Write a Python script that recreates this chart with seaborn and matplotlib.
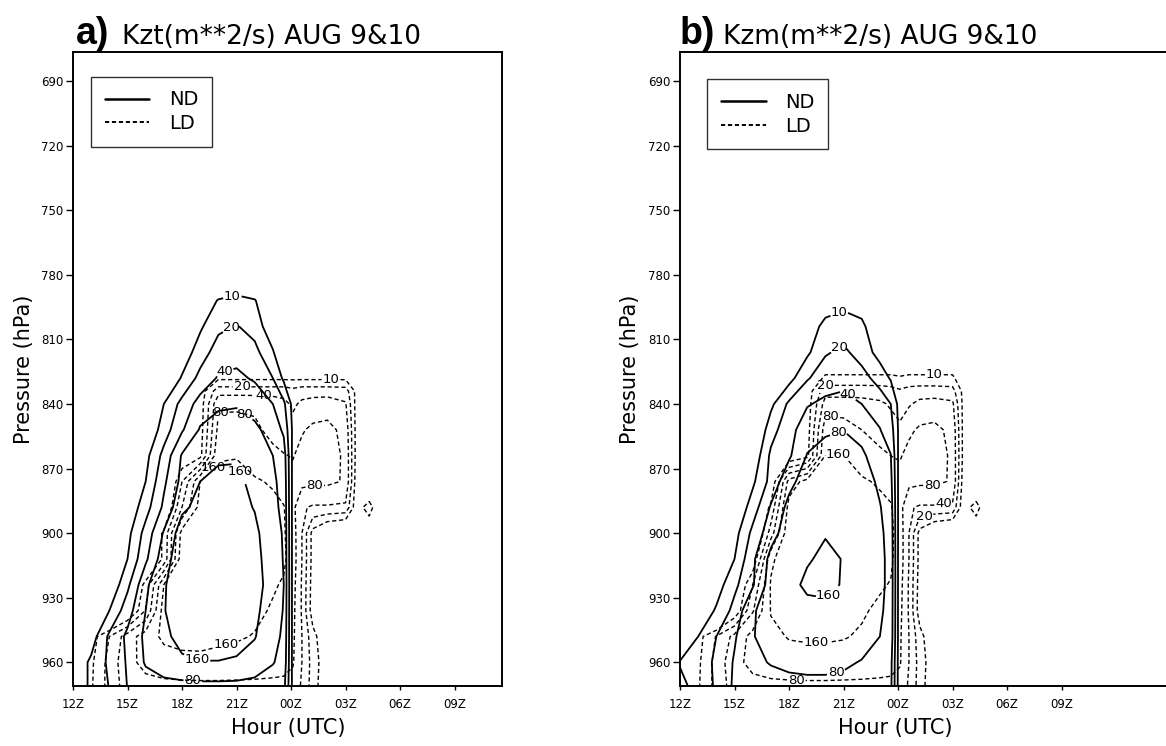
import numpy as np
import matplotlib
matplotlib.use("Agg")
import matplotlib.pyplot as plt
import seaborn as sns
from matplotlib.lines import Line2D

# ------------------------------------------------------------------
#  Data: Kz (m**2/s) on a coarse time/pressure grid
#  hours are counted from 12Z, pressure in hPa
# ------------------------------------------------------------------
LEVELS = [10, 20, 40, 80, 160]

HOURS_ND = [0, 1, 2, 3, 4, 5, 6, 7, 8, 9, 10, 11, 11.6, 12.1]
PRES_ND = [780, 792, 804, 816, 828, 840, 852, 864, 876, 888, 900, 912,
           924, 936, 948, 960, 975]

HOURS_LD = [0, 1, 2, 3, 4, 5, 6, 7, 8, 9, 10, 11, 11.6, 12.1, 12.6, 13.2,
            14, 15, 15.6, 16.3, 17]
PRES_LD = [816, 828, 834, 840, 852, 864, 876, 888, 900, 912, 924, 936,
           948, 960, 975]

# a) Kzt, ND run
KZT_ND = [
    [1, 1, 1, 1, 1, 1, 2, 3, 4, 5, 4, 3, 2, 1],
    [1, 1, 1, 1, 1.5, 2, 3, 6, 10.5, 12, 10.5, 5, 3, 1],
    [1, 1, 1, 1.5, 2, 3, 5, 9, 17, 21, 15, 6, 3, 1],
    [1, 1, 1.5, 2, 3, 4.5, 6.6, 14, 28, 32, 25, 10.7, 5, 1.5],
    [1, 1, 1.5, 2, 3, 5, 10.7, 25, 43, 46, 37, 20, 8.7, 2.5],
    [1, 1.5, 2, 3, 5, 10, 25, 53, 72, 75, 61, 40, 23, 8],
    [1, 1.5, 2, 3, 5, 14, 37, 86, 106, 113, 92, 61, 35, 8.7],
    [1, 1.5, 2.5, 4.4, 8, 25, 86, 121, 144, 150, 121, 80, 57, 8.2],
    [1, 1.5, 2.5, 5.7, 10, 35, 98, 160, 190, 184, 135, 89, 65, 8.1],
    [1, 2, 3, 5.7, 15, 46, 139, 197, 211, 197, 155, 92, 70, 8],
    [1, 2, 4, 8, 26, 86, 226, 243, 243, 226, 184, 106, 75, 8],
    [1, 2, 4.4, 10, 35, 121, 243, 260, 260, 243, 197, 113, 77, 8],
    [1, 2.5, 5.4, 17, 70, 150, 243, 260, 260, 243, 204, 121, 80, 8],
    [2.5, 4.4, 10, 30, 80, 155, 226, 243, 243, 226, 184, 113, 77, 8],
    [3.5, 7, 23, 46, 92, 139, 197, 211, 211, 197, 166, 98, 72, 8],
    [5.7, 11.5, 23, 43, 86, 121, 144, 157, 157, 150, 121, 83, 65, 8],
    [5.7, 11.5, 20, 40, 50, 50, 50, 50, 50, 50, 50, 50, 46, 8.4],
]

# a) Kzt, LD run
KZT_LD = [
    [1, 1, 1, 1, 1, 1, 1, 2, 3, 3, 3, 3, 3, 3, 3, 3, 3, 3, 2, 1, 1],
    [1, 1, 1, 1, 1, 1.5, 2, 4, 8.7, 8.7, 8.7, 8.7, 8.7, 8.7, 8.7, 8.7, 8.7, 8.7, 5, 1, 1],
    [1, 1, 1, 1, 1.5, 2, 3, 6.6, 30, 30, 30, 30, 30, 25, 30, 30, 30, 28, 8, 2, 1],
    [1, 1, 1, 1, 1.5, 2, 3, 6.6, 72, 72, 70, 61, 49, 35, 46, 53, 57, 43, 7.6, 2, 1],
    [1, 1, 1, 1, 1.5, 2, 3, 7, 98, 102, 92, 65, 57, 53, 75, 92, 98, 65, 7.6, 2, 1],
    [1, 1, 1, 1, 1.5, 2, 5, 8, 150, 155, 121, 95, 83, 77, 98, 109, 106, 72, 7.6, 2, 1],
    [1, 1, 1, 1.5, 2, 2.5, 20, 160, 197, 197, 171, 150, 113, 98, 98, 92, 92, 75, 7, 2, 1],
    [1, 1, 1, 1.5, 2, 3.5, 40, 211, 226, 226, 211, 184, 166, 98, 43, 37, 37, 35, 6, 16, 3],
    [1, 1, 1, 1.5, 3.5, 11.5, 211, 243, 243, 243, 226, 197, 171, 113, 40, 7.6, 3.5, 2.5, 1.8, 4, 1],
    [1, 1, 1, 1.5, 2.5, 12, 260, 260, 260, 260, 234, 204, 178, 117, 40, 7.6, 3, 2, 1.5, 1, 1],
    [1, 1, 1, 2.5, 13, 160, 243, 260, 260, 243, 211, 171, 150, 106, 37, 7, 3, 2, 1.5, 1, 1],
    [1, 1, 1, 3.5, 21, 226, 243, 243, 226, 197, 184, 150, 130, 98, 37, 6.6, 3, 2, 1.5, 1, 1],
    [1, 7, 20, 57, 113, 184, 211, 211, 184, 171, 155, 130, 121, 92, 40, 13, 5, 2, 1.5, 1, 1],
    [3.5, 8.7, 26, 65, 98, 117, 126, 130, 130, 126, 121, 113, 106, 86, 40, 15, 5.7, 2, 1.5, 1, 1],
    [4.4, 9.3, 26, 53, 55, 55, 55, 55, 55, 55, 55, 55, 55, 52, 37, 14, 5, 2, 1.5, 1, 1],
]

# b) Kzm, ND run
KZM_ND = [
    [1, 1, 1, 1, 1, 1, 2, 3, 4, 5, 4, 3, 2, 1],
    [1, 1, 1, 1, 1.5, 2, 3, 4.5, 7, 8, 6.5, 4, 2.5, 1],
    [1, 1, 1, 1, 1.5, 2, 3, 7, 12, 14, 12, 5, 2.5, 1],
    [1, 1, 1, 1, 1.5, 2.5, 4, 8.7, 18.7, 23, 15, 7.6, 3.5, 1.5],
    [1, 1, 1, 1.5, 2, 3.5, 7.6, 18.7, 29, 32, 26, 15, 9.3, 2.5],
    [1, 1, 1.5, 2, 4.4, 8.4, 23, 38, 46, 50, 40, 30, 20, 7.4],
    [1, 1, 1.5, 2, 3.8, 15, 32, 57, 72, 79, 65, 41, 28, 7.7],
    [1, 1, 1.5, 3.5, 5.7, 23, 36, 83, 106, 109, 89, 57, 41, 7],
    [1, 1, 1.5, 4.4, 8.7, 25, 65, 113, 135, 139, 113, 70, 49, 6.7],
    [1, 1, 1.5, 5, 14, 43, 98, 139, 155, 155, 130, 83, 57, 6.5],
    [1, 1.5, 3.5, 7.6, 24, 61, 117, 144, 157, 155, 135, 92, 61, 6.4],
    [1, 1.5, 4.7, 10, 35, 98, 135, 155, 171, 158, 139, 95, 65, 6.2],
    [1, 3.5, 7, 17, 37, 113, 144, 171, 178, 155, 139, 95, 65, 6.2],
    [1, 5.4, 11, 25, 75, 106, 130, 144, 144, 135, 121, 89, 63, 6.2],
    [3.5, 10, 20, 37, 77, 106, 121, 130, 130, 126, 109, 80, 61, 6.2],
    [10.7, 15, 22, 43, 70, 83, 92, 95, 95, 89, 77, 61, 49, 6.2],
    [7, 12.3, 22, 46, 53, 57, 59, 61, 61, 59, 57, 53, 46, 6.2],
]

# b) Kzm, LD run
KZM_LD = [
    [1, 1, 1, 1, 1, 1, 1, 2, 3, 3, 3, 3, 3, 3, 3, 3, 3, 3, 2, 1, 1],
    [1, 1, 1, 1, 1, 1.5, 2, 4, 12, 12, 12, 12, 12, 11, 12, 12, 12, 12, 5, 1, 1],
    [1, 1, 1, 1, 1.5, 2, 3, 6.6, 30, 30, 30, 29, 26, 22, 26, 28, 28, 26, 8, 2, 1],
    [1, 1, 1, 1, 1.5, 2, 3, 6.6, 55, 55, 52, 45, 37, 30, 37, 49, 53, 46, 8, 2, 1],
    [1, 1, 1, 1, 1.5, 2, 3, 7, 120, 110, 80, 65, 53, 46, 70, 89, 95, 67, 8, 2, 1],
    [1, 1, 1, 1, 1.5, 2, 5, 8, 163, 162, 106, 89, 80, 75, 98, 109, 106, 72, 8, 2, 1],
    [1, 1, 1, 1.5, 2, 5, 106, 211, 226, 211, 178, 144, 121, 102, 98, 92, 92, 75, 7, 2, 1],
    [1, 1, 1, 1.5, 3.5, 11.5, 211, 243, 251, 243, 226, 197, 171, 106, 43, 37, 37, 35, 6, 16, 3],
    [1, 1, 1, 1.5, 2.5, 28, 279, 279, 279, 269, 243, 211, 184, 117, 40, 7.6, 3.5, 2.5, 1.8, 4, 1],
    [1, 1, 1, 1.8, 5, 139, 260, 279, 279, 260, 226, 197, 178, 117, 40, 7.6, 3, 2, 1.5, 1, 1],
    [1, 1, 1, 3.5, 20, 171, 226, 243, 243, 226, 204, 171, 155, 106, 37, 7, 3, 2, 1.5, 1, 1],
    [1, 1, 1, 5.4, 37, 166, 197, 197, 190, 178, 171, 144, 121, 98, 37, 6.6, 3, 2, 1.5, 1, 1],
    [2.5, 7.6, 21, 49, 102, 139, 166, 171, 171, 166, 150, 130, 117, 89, 40, 13, 5, 2, 1.5, 1, 1],
    [3.5, 8.7, 26, 65, 98, 117, 126, 130, 130, 126, 121, 113, 106, 86, 40, 15, 5.7, 2, 1.5, 1, 1],
    [4.4, 9.3, 26, 53, 55, 55, 55, 55, 55, 55, 55, 55, 55, 52, 37, 14, 5, 2, 1.5, 1, 1],
]

X_TICKS = [0, 3, 6, 9, 12, 15, 18, 21]
X_TICK_LABELS = ["12Z", "15Z", "18Z", "21Z", "00Z", "03Z", "06Z", "09Z"]
Y_TICKS = [690, 720, 750, 780, 810, 840, 870, 900, 930, 960]

# contour labels: (level, hour after 12Z, hPa) where each one sits
ROT_A_ND = [(10, 8.8, 791), (20, 8.6, 803), (40, 8.3, 824), (80, 9.6, 843),
            (160, 9.3, 871), (160, 6.8, 959), (80, 6.6, 968)]
ROT_A_LD = [(10, 14.2, 829), (20, 9.3, 832), (40, 10.5, 836), (80, 8.1, 844),
            (160, 7.8, 870), (80, 13.3, 879), (160, 8.5, 955)]
ROT_B_ND = [(10, 8.7, 796), (20, 8.7, 813), (40, 9.3, 835), (80, 8.7, 852),
            (160, 8.3, 930), (80, 8.6, 965)]
ROT_B_LD = [(10, 14.0, 827), (20, 8.0, 831), (80, 8.3, 846), (160, 8.7, 863),
            (80, 13.9, 877), (40, 14.5, 886), (20, 13.4, 891),
            (160, 7.5, 951), (80, 6.4, 968)]

# ------------------------------------------------------------------
#  Style
# ------------------------------------------------------------------
sns.set_theme(style="ticks")
plt.rcParams["font.family"] = ["DejaVu Sans"]
plt.rcParams["text.color"] = "black"
plt.rcParams["axes.labelcolor"] = "black"
plt.rcParams["lines.dashed_pattern"] = (3.0, 2.0)
plt.rcParams["lines.scale_dashes"] = False

W, H = 1166, 746
fig = plt.figure(figsize=(W / 100, H / 100), dpi=100)
fig.patch.set_facecolor("white")


def fmt_nivel(v):
    return f"{np.exp(v):.0f}"


def desenhar_campo(ax, horas, pres, campo, estilo, lw, rotulos):
    """Uma isolinha por nível, para poder rotular cada uma no lugar certo."""
    z = np.log(np.array(campo))
    for nivel in LEVELS:
        cs = ax.contour(horas, pres, z, levels=[np.log(nivel)],
                        colors="black", linewidths=lw, linestyles=estilo)
        pos = [(x, y) for n, x, y in rotulos if n == nivel]
        if pos:
            txts = ax.clabel(cs, fmt=fmt_nivel, fontsize=9.5, inline=True,
                             inline_spacing=1, manual=pos)
            for t in txts:
                t.set_rotation(0)


def desenhar_painel(ax, nd, ld, xmax, legend_anchor, rot_nd, rot_ld):
    ax.set_xlim(0, xmax)
    ax.set_ylim(971, 676.5)
    desenhar_campo(ax, HOURS_ND, PRES_ND, nd, "solid", 1.3, rot_nd)
    desenhar_campo(ax, HOURS_LD, PRES_LD, ld, "dashed", 1.0, rot_ld)
    ax.set_xlim(0, xmax)
    ax.set_ylim(971, 676.5)

    ax.set_yticks(Y_TICKS)
    ax.set_yticklabels([str(v) for v in Y_TICKS])
    ax.set_xticks(X_TICKS)
    ax.set_xticklabels(X_TICK_LABELS)
    ax.tick_params(axis="y", direction="out", length=5, width=1, pad=2,
                   labelsize=8.5, colors="black")
    ax.tick_params(axis="x", direction="out", length=3, width=1, pad=6,
                   labelsize=8.5, colors="black")
    for s in ax.spines.values():
        s.set_linewidth(1.4)
        s.set_color("black")

    handles = [Line2D([], [], color="black", lw=1.8, ls="solid"),
               Line2D([], [], color="black", lw=1.4, ls="dashed")]
    leg = ax.legend(handles, ["ND", "LD"], loc="upper left",
                    bbox_to_anchor=legend_anchor, borderaxespad=0,
                    fontsize=14, handlelength=2.3, handletextpad=1.0,
                    labelspacing=0.25, borderpad=0.7, fancybox=False,
                    frameon=True)
    leg.get_frame().set_edgecolor("black")
    leg.get_frame().set_linewidth(1.0)
    for t in leg.get_texts():
        t.set_color("black")


# painel a
ax_a = fig.add_axes([73 / W, 1 - 686 / H, 429 / W, 634 / H])
desenhar_painel(ax_a, KZT_ND, KZT_LD, 429 / 18.17, (0.042, 0.961),
                ROT_A_ND, ROT_A_LD)

# painel b (cortado na borda direita da figura)
ax_b = fig.add_axes([680 / W, 1 - 686 / H, 490 / W, 634 / H])
desenhar_painel(ax_b, KZM_ND, KZM_LD, 490 / 18.17, (0.056, 0.957),
                ROT_B_ND, ROT_B_LD)
ax_b.spines["right"].set_visible(False)

# titulos
fig.text(76 / W, 1 - 44 / H, "a)", fontsize=27, fontweight="bold",
         family="Liberation Sans", va="baseline", ha="left")
fig.text(122 / W, 1 - 44 / H, "Kzt(m**2/s) AUG 9&10", fontsize=19,
         va="baseline", ha="left")
fig.text(680 / W, 1 - 44 / H, "b)", fontsize=27, fontweight="bold",
         family="Liberation Sans", va="baseline", ha="left")
fig.text(723 / W, 1 - 44 / H, "Kzm(m**2/s) AUG 9&10", fontsize=19,
         va="baseline", ha="left")

# rotulos dos eixos
for xc in (24, 630):
    fig.text(xc / W, 1 - 369 / H, "Pressure (hPa)", fontsize=15,
             rotation=90, ha="center", va="center")
for xc in (288, 895):
    fig.text(xc / W, 1 - 728 / H, "Hour (UTC)", fontsize=15,
             ha="center", va="center")

fig.savefig("out.png", dpi=100)
plt.close(fig)
